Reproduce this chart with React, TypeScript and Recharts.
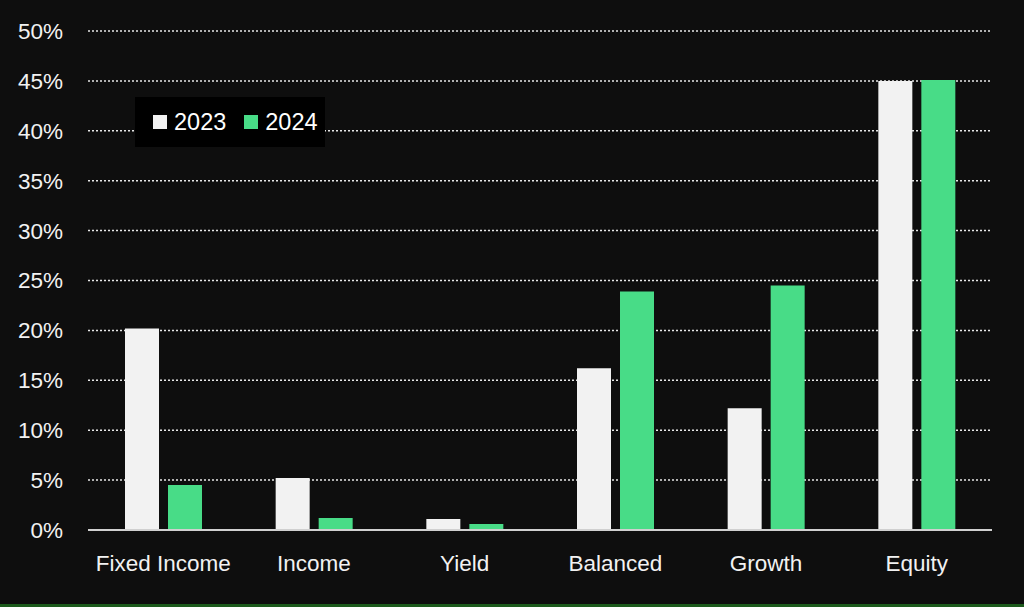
import { BarChart, Bar, XAxis, YAxis, CartesianGrid } from "recharts";

const categories = ["Fixed Income", "Income", "Yield", "Balanced", "Growth", "Equity"];
const values2023 = [20.2, 5.2, 1.1, 16.2, 12.2, 45.0];
const values2024 = [4.5, 1.2, 0.6, 23.9, 24.5, 45.1];
const yTicks = [0, 5, 10, 15, 20, 25, 30, 35, 40, 45, 50];
const seriesLabels = ["2023", "2024"];

const WHITE = "#f2f2f2";
const GREEN = "#48dc87";
const FONT = "'Liberation Sans', Arial, sans-serif";

const data = categories.map((name, i) => ({
  name,
  y2023: values2023[i],
  y2024: values2024[i],
}));

function LegendBox() {
  const colors = [WHITE, GREEN];
  return (
    <div
      style={{
        position: "absolute",
        left: 135,
        top: 97,
        background: "#000",
        width: 190,
        height: 50,
        display: "flex",
        alignItems: "center",
        paddingLeft: 18,
        boxSizing: "border-box",
        fontFamily: FONT,
        fontSize: 23.5,
        color: "#fff",
      }}
    >
      {seriesLabels.map((label, i) => (
        <div key={label} style={{ display: "flex", alignItems: "center", marginRight: 18 }}>
          <span style={{ width: 14, height: 14, background: colors[i], display: "inline-block", marginRight: 7 }} />
          <span>{label}</span>
        </div>
      ))}
    </div>
  );
}

export default function App() {
  return (
    <div
      style={{
        position: "absolute",
        left: 0,
        top: 0,
        width: 1024,
        height: 607,
        background: "#0e0e0e",
        overflow: "hidden",
      }}
    >
      <BarChart
        width={1024}
        height={607}
        data={data}
        margin={{ top: 31, right: 32, bottom: 27, left: 0 }}
        barSize={34}
        barGap={9}
      >
        <CartesianGrid
          vertical={false}
          stroke="#e8e8e8"
          strokeDasharray="2 2"
          strokeWidth={1.5}
        />
        <XAxis
          dataKey="name"
          height={50}
          tickLine={false}
          tickSize={0}
          tickMargin={25}
          axisLine={{ stroke: "#d0d0d0", strokeWidth: 2 }}
          tick={{ fill: "#f2f2f2", fontSize: 22.5, fontFamily: FONT }}
          interval={0}
        />
        <YAxis
          width={88}
          domain={[0, 50]}
          ticks={yTicks}
          tickFormatter={(v: number) => `${v}%`}
          axisLine={false}
          tickLine={false}
          tickSize={0}
          tickMargin={25}
          tick={{ fill: "#f2f2f2", fontSize: 22.5, fontFamily: FONT }}
        />
        <Bar dataKey="y2023" name="2023" fill={WHITE} isAnimationActive={false} />
        <Bar dataKey="y2024" name="2024" fill={GREEN} isAnimationActive={false} />
      </BarChart>
      <LegendBox />
      <div
        style={{
          position: "absolute",
          left: 0,
          bottom: 0,
          width: 1024,
          height: 3,
          background: "#1c5a1c",
        }}
      />
    </div>
  );
}
